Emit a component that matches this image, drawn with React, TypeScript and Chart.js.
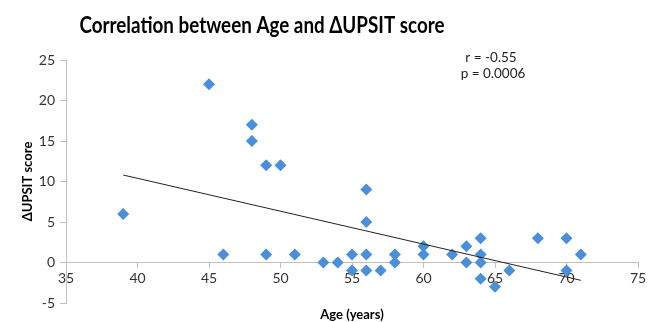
import React, { useEffect, useRef } from "react";
import { Chart, registerables } from "chart.js";

Chart.register(...registerables);

const TITLE = "Correlation between Age and ΔUPSIT score";
const X_TITLE = "Age (years)";
const Y_TITLE = "ΔUPSIT score";
const STATS = ["r = -0.55", "p = 0.0006"];

const ages = [39, 45, 46, 48, 48, 49, 49, 50, 51, 53, 54, 55, 55, 56, 56, 56, 56, 57, 58, 58, 60, 60, 62, 63, 63, 64, 64, 64, 64, 65, 66, 68, 70, 70, 71];
const deltas = [6, 22, 1, 17, 15, 12, 1, 12, 1, 0, 0, 1, -1, 9, 5, 1, -1, -1, 1, 0, 2, 1, 1, 2, 0, 3, 1, 0, -2, -3, -1, 3, 3, -1, 1];

const trendX = [39, 71];
const trendY = [10.8, -2.2];

const xTicks = [35, 40, 45, 50, 55, 60, 65, 70, 75];
const yTicks = [-5, 0, 5, 10, 15, 20, 25];

const FONT = "Lato, 'Open Sans', sans-serif";

export default function App() {
  const ref = useRef<HTMLCanvasElement | null>(null);

  useEffect(() => {
    const canvas = ref.current;
    if (!canvas) return;

    const textPlugin = {
      id: "texts",
      afterDraw(chart: any) {
        const ctx = chart.ctx;
        ctx.save();
        ctx.fillStyle = "#000";
        ctx.textAlign = "center";
        ctx.textBaseline = "middle";
        ctx.font = `bold 23px ${FONT}`;
        const w = ctx.measureText(TITLE).width;
        const sx = Math.min(1, 365 / w);
        ctx.translate(262, 26);
        ctx.scale(sx, 1);
        ctx.fillText(TITLE, 0, 0);
        ctx.restore();

        ctx.save();
        ctx.textAlign = "center";
        ctx.textBaseline = "middle";
        ctx.fillStyle = "#000";
        ctx.font = `bold 13px ${FONT}`;
        ctx.fillText(X_TITLE, 352, 315);
        ctx.font = `13.5px ${FONT}`;
        ctx.fillStyle = "#222";
        ctx.fillText(STATS[0], 491, 58);
        ctx.fillText(STATS[1], 493, 74);
        ctx.restore();
      },
    };

    const chart = new Chart(canvas, {
      type: "scatter",
      data: {
        datasets: [
          {
            label: "data",
            data: ages.map((a, i) => ({ x: a, y: deltas[i] })),
            pointStyle: "rectRot",
            pointRadius: 6,
            pointBackgroundColor: "#4A8FDA",
            pointBorderColor: "#4A8FDA",
            pointBorderWidth: 0,
            order: 1,
          },
          {
            type: "line",
            label: "trend",
            data: trendX.map((x, i) => ({ x, y: trendY[i] })),
            borderColor: "#222",
            borderWidth: 1,
            pointRadius: 0,
            fill: false,
            order: 0,
          } as any,
        ],
      },
      options: {
        responsive: false,
        animation: false,
        layout: { padding: { left: 0, right: 16, top: 60, bottom: 19 } },
        plugins: {
          legend: { display: false },
          tooltip: { enabled: false },
          title: { display: false },
        },
        scales: {
          x: {
            type: "linear",
            position: { y: 0 } as any,
            min: 35,
            max: 75,
            afterBuildTicks: (scale: any) => {
              scale.ticks = xTicks.map((v) => ({ value: v }));
            },
            ticks: {
              color: "#333",
              font: { family: FONT, size: 14 },
              padding: 3,
              maxRotation: 0,
            },
            grid: {
              drawOnChartArea: false,
              drawTicks: true,
              tickLength: 5,
              color: "#c0c0c0",
            },
            border: { display: true, color: "#c0c0c0", width: 1 },
          },
          y: {
            type: "linear",
            position: "left",
            min: -5,
            max: 25,
            afterBuildTicks: (scale: any) => {
              scale.ticks = yTicks.map((v) => ({ value: v }));
            },
            afterFit: (scale: any) => {
              scale.width = 66;
            },
            ticks: {
              color: "#333",
              font: { family: FONT, size: 14 },
              padding: 5,
            },
            grid: {
              drawOnChartArea: false,
              drawTicks: true,
              tickLength: 6,
              color: "#c0c0c0",
            },
            border: { display: true, color: "#c0c0c0", width: 1 },
            title: {
              display: true,
              text: Y_TITLE,
              color: "#000",
              font: { family: FONT, size: 13, weight: "bold" },
              padding: { top: 20, bottom: 0 },
            },
          },
        },
      },
      plugins: [textPlugin],
    });

    return () => chart.destroy();
  }, []);

  return (
    <div style={{ position: "fixed", left: 0, top: 0, width: 654, height: 322, background: "#fff" }}>
      <canvas ref={ref} width={654} height={322} style={{ width: 654, height: 322, display: "block" }} />
    </div>
  );
}
